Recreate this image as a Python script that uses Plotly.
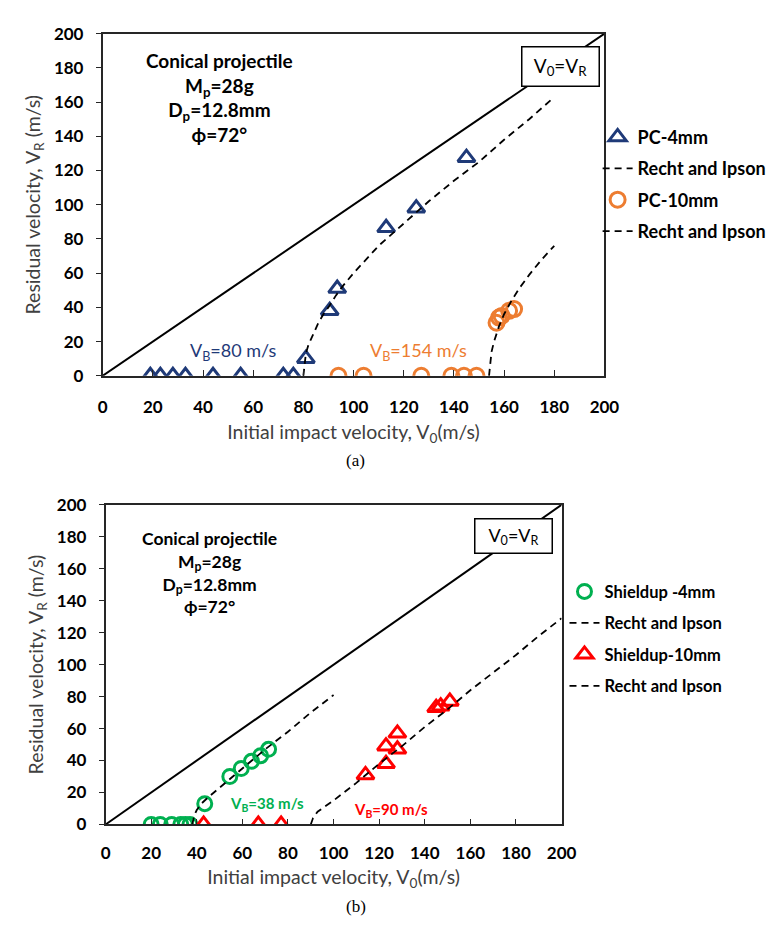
import plotly.graph_objects as go

W, H = 780, 933

# ---------------- data ----------------
# (a) PC plates
pc4_v0 = [19, 23, 28, 33, 44, 55, 72, 76, 81, 90.5, 93.5, 113, 125, 145]
pc4_vr = [0, 0, 0, 0, 0, 0, 0, 0, 10, 38, 51, 86.5, 98, 127.5]
ri_pc4_v0 = [80, 81, 82, 84, 86, 88, 90, 93, 96, 100, 105, 110, 120, 130, 140, 150, 160, 170, 178.5]
ri_pc4_vr = [0, 13, 18, 25, 31, 36, 40, 47, 53, 60, 68, 76, 89, 102, 114, 125, 138, 150, 161]

pc10_v0 = [94, 104, 127, 139, 144, 149, 157, 158, 159, 162, 164]
pc10_vr = [0, 0, 0, 0, 0, 0, 31, 34, 35, 38, 39]
ri_pc10_v0 = [154, 154.5, 155, 156, 158, 160, 163, 166, 170, 175, 180]
ri_pc10_vr = [0, 10, 14, 20, 29, 36, 44, 51, 59, 68, 76]

# (b) Shieldup plates
s4_v0 = [20, 24, 29, 33, 35, 37, 43.5, 54.5, 59.5, 64, 68, 71.5]
s4_vr = [0, 0, 0, 0, 0, 0, 13, 30, 35, 39.5, 43, 47]
ri_s4_v0 = [38, 39, 40, 42, 45, 50, 60, 70, 80, 90, 100]
ri_s4_vr = [0, 6, 9, 13, 17, 23, 35, 47, 58, 70, 81]

s10_v0 = [43, 67, 77, 114, 123, 123, 128, 128, 145, 147, 151]
s10_vr = [0, 0, 0, 31, 38, 49, 47, 57, 73, 74, 77]
ri_s10_v0 = [90, 91, 93, 96, 100, 110, 120, 130, 140, 150, 160, 170, 180, 190, 200]
ri_s10_vr = [0, 4, 8, 11, 15, 26, 38, 49, 61, 72, 84, 95, 106, 118, 129]

eq_line = [0, 200]
ticks = [0, 20, 40, 60, 80, 100, 120, 140, 160, 180, 200]

NAVY = "#1F3A78"
ORANGE = "#ED7D31"
GREEN = "#00B050"
RED = "#FF0000"
FONT = "Lato"

fig = go.Figure()

def dash_trace(x, y, xa, ya, leg, group):
    return go.Scatter(x=x, y=y, mode="lines", xaxis=xa, yaxis=ya,
                      line=dict(color="black", width=1.8, dash="7px,5px"),
                      name="Recht and Ipson", legend=leg, legendgroup=group)

# ---- panel (a)
fig.add_trace(go.Scatter(x=eq_line, y=eq_line, mode="lines", xaxis="x", yaxis="y",
                         line=dict(color="black", width=2), showlegend=False))
fig.add_trace(go.Scatter(x=pc4_v0, y=pc4_vr, mode="markers", xaxis="x", yaxis="y",
                         marker=dict(symbol="triangle-up-open", size=15, color=NAVY,
                                     line=dict(width=3, color=NAVY)),
                         name="PC-4mm", legend="legend", legendgroup="a1"))
fig.add_trace(dash_trace(ri_pc4_v0, ri_pc4_vr, "x", "y", "legend", "a2"))
fig.add_trace(go.Scatter(x=pc10_v0, y=pc10_vr, mode="markers", xaxis="x", yaxis="y",
                         marker=dict(symbol="circle-open", size=15, color=ORANGE,
                                     line=dict(width=3, color=ORANGE)),
                         name="PC-10mm", legend="legend", legendgroup="a3"))
fig.add_trace(dash_trace(ri_pc10_v0, ri_pc10_vr, "x", "y", "legend", "a4"))

# ---- panel (b)
fig.add_trace(go.Scatter(x=eq_line, y=eq_line, mode="lines", xaxis="x2", yaxis="y2",
                         line=dict(color="black", width=2), showlegend=False))
fig.add_trace(go.Scatter(x=s4_v0, y=s4_vr, mode="markers", xaxis="x2", yaxis="y2",
                         marker=dict(symbol="circle-open", size=14, color=GREEN,
                                     line=dict(width=3, color=GREEN)),
                         name="Shieldup -4mm", legend="legend2", legendgroup="b1"))
fig.add_trace(dash_trace(ri_s4_v0, ri_s4_vr, "x2", "y2", "legend2", "b2"))
fig.add_trace(go.Scatter(x=s10_v0, y=s10_vr, mode="markers", xaxis="x2", yaxis="y2",
                         marker=dict(symbol="triangle-up-open", size=15, color=RED,
                                     line=dict(width=3, color=RED)),
                         name="Shieldup-10mm", legend="legend2", legendgroup="b3"))
fig.add_trace(dash_trace(ri_s10_v0, ri_s10_vr, "x2", "y2", "legend2", "b4"))

def px_x(p):
    return p / W

def px_y(p):
    return 1 - p / H

axis_common = dict(range=[0, 200], tickvals=ticks, showgrid=False, zeroline=False,
                   showline=True, mirror=True, linecolor="#262626", linewidth=1.5,
                   tickcolor="#262626", tickwidth=1.2,
                   tickfont=dict(family=FONT, size=17, color="black", weight="bold"),
                   title_font=dict(family=FONT, size=19.5, color="#404040"))

fig.update_layout(
    width=W, height=H, margin=dict(l=0, r=0, t=0, b=0),
    paper_bgcolor="white", plot_bgcolor="white",
    xaxis=dict(domain=[px_x(92), px_x(607)], anchor="y", ticks="inside", ticklen=6,
               ticklabelstandoff=15,
               title=dict(text="Initial impact velocity, V<sub>0</sub>(m/s)", standoff=9),
               **axis_common),
    yaxis=dict(domain=[px_y(365), px_y(15)], anchor="x", ticks="outside", ticklen=5,
               ticklabelstandoff=9,
               title=dict(text="Residual velocity, V<sub>R</sub> (m/s)", standoff=8),
               **axis_common),
    xaxis2=dict(domain=[px_x(95), px_x(563)], anchor="y2", ticks="inside", ticklen=6,
                ticklabelstandoff=12,
                title=dict(text="Initial impact velocity, V<sub>0</sub>(m/s)", standoff=9),
                **axis_common),
    yaxis2=dict(domain=[px_y(824), px_y(497)], anchor="x2", ticks="outside", ticklen=5,
                ticklabelstandoff=9,
                title=dict(text="Residual velocity, V<sub>R</sub> (m/s)", standoff=8),
                **axis_common),
    legend=dict(x=px_x(600), y=px_y(102), xanchor="left", yanchor="top",
                bgcolor="rgba(0,0,0,0)", traceorder="grouped", tracegroupgap=5,
                font=dict(family=FONT, size=18, color="black", weight="bold")),
    legend2=dict(x=px_x(566), y=px_y(568), xanchor="left", yanchor="top",
                 bgcolor="rgba(0,0,0,0)", traceorder="grouped", tracegroupgap=7,
                 font=dict(family=FONT, size=16.5, color="black", weight="bold")),
    showlegend=True,
)

ann = []
def note(text, x, y, xref, yref, size=16, color="black", bold=True, **kw):
    ann.append(dict(text=text, x=x, y=y, xref=xref, yref=yref, showarrow=False,
                    font=dict(family=FONT, size=size, color=color,
                              weight="bold" if bold else "normal"), **kw))

info_text = "Conical projectile<br>M<sub>p</sub>=28g<br>D<sub>p</sub>=12.8mm<br>\u03d5=72\u00b0"

# panel (a) notes
note(info_text, 46.5, 162.4, "x", "y", 19)
note("V<sub>0</sub>=V<sub>R</sub>", 182.4, 181, "x", "y", 19, bold=False,
     bgcolor="white", bordercolor="black", borderwidth=1.5, width=74, height=36, borderpad=1)
note("V<sub>B</sub>=80 m/s", 52.3, 14.2, "x", "y", 18, color=NAVY, bold=False)
note("V<sub>B</sub>=154 m/s", 126, 14.2, "x", "y", 18, color=ORANGE, bold=False)

# panel (b) notes
note(info_text, 45.6, 157.6, "x2", "y2", 17.5)
note("V<sub>0</sub>=V<sub>R</sub>", 179, 180.4, "x2", "y2", 18, bold=False,
     bgcolor="white", bordercolor="black", borderwidth=1.5, width=74, height=31, borderpad=1)
note("V<sub>B</sub>=38 m/s", 71, 12.7, "x2", "y2", 15, color=GREEN)
note("V<sub>B</sub>=90 m/s", 125.2, 9.2, "x2", "y2", 15, color=RED)

# captions
ann.append(dict(text="(a)", x=px_x(352), y=px_y(452), xref="paper", yref="paper",
                showarrow=False, font=dict(family="Liberation Serif", size=17, color="black")))
ann.append(dict(text="(b)", x=px_x(352), y=px_y(920), xref="paper", yref="paper",
                showarrow=False, font=dict(family="Liberation Serif", size=17, color="black")))

fig.update_layout(annotations=ann)
fig.write_html("out.html")
